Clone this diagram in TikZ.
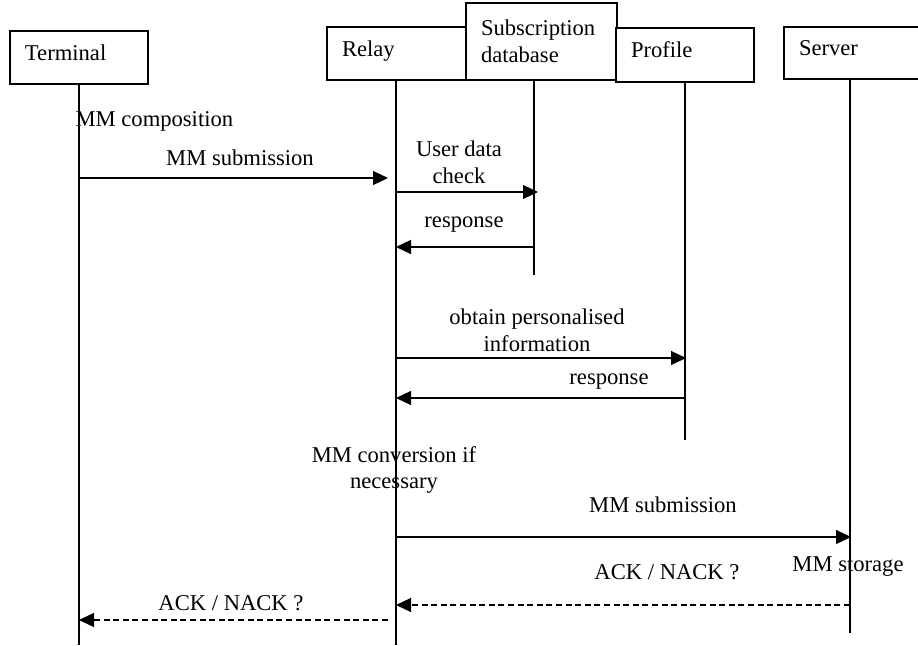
\documentclass[tikz,border=0pt]{standalone}
\usepackage{fontspec}
\setmainfont{Liberation Serif}
\usetikzlibrary{arrows.meta}
\begin{document}
\begin{tikzpicture}[x=0.5pt,y=-0.5pt,
  font=\fontsize{11.3}{13.3}\selectfont,
  line width=0.6pt,
  box/.style={draw, fill=white, line width=0.6pt, inner xsep=7.5pt, inner ysep=0pt, align=left, text depth=5pt},
  tallbox/.style={draw, fill=white, line width=0.6pt, inner xsep=7.5pt, inner ysep=0pt, align=left},
  life/.style={line width=0.6pt},
  msg/.style={-{Triangle[length=7.5pt,width=7pt]}, line width=0.6pt},
  reply/.style={msg, dash pattern=on 3pt off 1.8pt},
  lbl/.style={inner sep=0pt, align=center}]
\useasboundingbox (0,0) rectangle (918,645);
% boxes
\node[box, minimum width=69pt, minimum height=26.5pt, text width=54pt] (term) at (79,57.5) {Terminal};
\node[box, minimum width=69.5pt, minimum height=26.5pt, text width=54.5pt] (relay) at (396.5,53.5) {Relay};
\node[tallbox, minimum width=75.5pt, minimum height=38.5pt, text width=60.5pt] (subdb) at (541.5,41.5) {Subscription\\database};
\node[box, minimum width=69pt, minimum height=27pt, text width=54pt] (prof) at (685,55) {Profile};
\node[box, minimum width=69pt, minimum height=26pt, text width=54pt] (serv) at (853,53) {Server};
% lifeline ends
\coordinate (tT) at (79,84);
\coordinate (tB) at (79,645);
\coordinate (rT) at (396,80);
\coordinate (rB) at (396,645);
\coordinate (sT) at (534,80);
\coordinate (sB) at (534,275);
\coordinate (pT) at (685,82);
\coordinate (pB) at (685,440);
\coordinate (vT) at (850,79);
\coordinate (vB) at (850,633);
\draw[life] (tT) -- (tB);
\draw[life] (rT) -- (rB);
\draw[life] (sT) -- (sB);
\draw[life] (pT) -- (pB);
\draw[life] (vT) -- (vB);
% message end points
\coordinate (m1a) at (79,178);  \coordinate (m1b) at (388,178);
\coordinate (m2a) at (396,192); \coordinate (m2b) at (538,192);
\coordinate (m3a) at (534,247); \coordinate (m3b) at (396,247);
\coordinate (m4a) at (396,358); \coordinate (m4b) at (686,358);
\coordinate (m5a) at (685,398); \coordinate (m5b) at (396,398);
\coordinate (m6a) at (396,537); \coordinate (m6b) at (851,537);
\coordinate (m7a) at (850,605); \coordinate (m7b) at (396,605);
\coordinate (m8a) at (388,620); \coordinate (m8b) at (79,620);
\draw[msg] (m1a) -- (m1b);
\draw[msg] (m2a) -- (m2b);
\draw[msg] (m3a) -- (m3b);
\draw[msg] (m4a) -- (m4b);
\draw[msg] (m5a) -- (m5b);
\draw[msg] (m6a) -- (m6b);
\draw[reply] (m7a) -- (m7b);
\draw[reply] (m8a) -- (m8b);
% labels
\node[lbl, anchor=west] (l0) at (75,121) {MM composition};
\node[lbl] (l1) at (240,158) {MM submission};
\node[lbl] (l2) at (459,162) {User data\\check};
\node[lbl] (l3) at (464,225) {response};
\node[lbl] (l4) at (537,330) {obtain personalised\\information};
\node[lbl] (l5) at (609,382) {response};
\node[lbl] (l6) at (394,470) {MM conversion if\\necessary};
\node[lbl] (l7) at (663,505) {MM submission};
\node[lbl] (l8) at (848,567) {MM storage};
\node[lbl] (l9) at (667,572) {ACK / NACK ?};
\node[lbl] (l10) at (231,603) {ACK / NACK ?};
\end{tikzpicture}
\end{document}
